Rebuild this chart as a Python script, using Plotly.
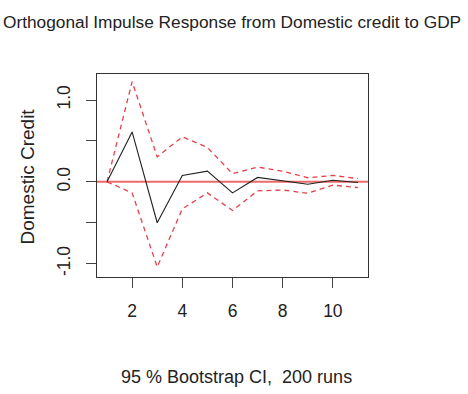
import plotly.graph_objects as go

steps = [1, 2, 3, 4, 5, 6, 7, 8, 9, 10, 11]
irf = [0.0, 0.61, -0.50, 0.078, 0.13, -0.135, 0.054, 0.01, -0.03, 0.02, -0.008]
upper = [0.0, 1.224, 0.306, 0.55, 0.42, 0.10, 0.18, 0.13, 0.05, 0.078, 0.04]
lower = [0.0, -0.135, -1.04, -0.33, -0.135, -0.35, -0.11, -0.10, -0.14, -0.04, -0.07]

x_ticks = [2, 4, 6, 8, 10]
y_ticks = [-1.0, -0.5, 0.0, 0.5, 1.0]
y_ticktext = ["-1.0", "", "0.0", "", "1.0"]

title_text = "Orthogonal Impulse Response from Domestic credit to GDP"
x_label = "95 % Bootstrap CI,  200 runs"
y_label = "Domestic Credit"

FONT = "Liberation Sans, Arial, sans-serif"

fig = go.Figure()
fig.add_trace(go.Scatter(x=[0.6, 11.4], y=[0, 0], mode="lines",
                         line=dict(color="rgba(232,80,80,0.85)", width=2),
                         hoverinfo="skip", showlegend=False))
fig.add_trace(go.Scatter(x=steps, y=upper, mode="lines",
                         line=dict(color="#e8404a", width=1.3, dash="5px,4px"),
                         showlegend=False))
fig.add_trace(go.Scatter(x=steps, y=lower, mode="lines",
                         line=dict(color="#e8404a", width=1.3, dash="5px,4px"),
                         showlegend=False))
fig.add_trace(go.Scatter(x=steps, y=irf, mode="lines",
                         line=dict(color="#222222", width=1.1),
                         showlegend=False))

fig.update_layout(
    width=468, height=394,
    margin=dict(l=97, r=100, t=74, b=117),
    paper_bgcolor="white", plot_bgcolor="white",
    font=dict(family=FONT, color="#222222"),
    showlegend=False,
    xaxis=dict(range=[0.6, 11.4], tickvals=x_ticks, ticks="outside", ticklen=10,
               tickcolor="#444444", showline=True, linecolor="#333333", linewidth=1,
               mirror=True, showgrid=False, zeroline=False, ticklabelstandoff=8,
               tickfont=dict(size=17.5, family=FONT, color="#222222")),
    yaxis=dict(range=[-1.163, 1.318], tickvals=y_ticks, ticktext=y_ticktext,
               ticks="outside", ticklen=10, tickcolor="#444444", tickangle=-90,
               showline=True, linecolor="#333333", linewidth=1, mirror=True,
               showgrid=False, zeroline=False, ticklabelstandoff=9,
               tickfont=dict(size=17.5, family=FONT, color="#222222")),
    annotations=[
        dict(text=title_text, xref="paper", yref="paper", x=(232 - 97) / 271,
             y=(277 - 22) / 203,
             xanchor="center", yanchor="middle", showarrow=False,
             font=dict(size=17.3, family=FONT, color="#222222")),
        dict(text=x_label, xref="paper", yref="paper", x=(236.7 - 97) / 271,
             y=(277 - 377) / 203, xanchor="center", yanchor="middle", showarrow=False,
             font=dict(size=18, family=FONT, color="#222222")),
        dict(text=y_label, xref="paper", yref="paper", x=(27 - 97) / 271,
             y=(277 - 176.5) / 203, xanchor="center", yanchor="middle", showarrow=False,
             textangle=-90, font=dict(size=19, family=FONT, color="#222222")),
    ],
)

fig.write_html("out.html", config={"displayModeBar": False},
               post_script="document.body.style.margin='0';document.body.style.overflow='hidden';")
